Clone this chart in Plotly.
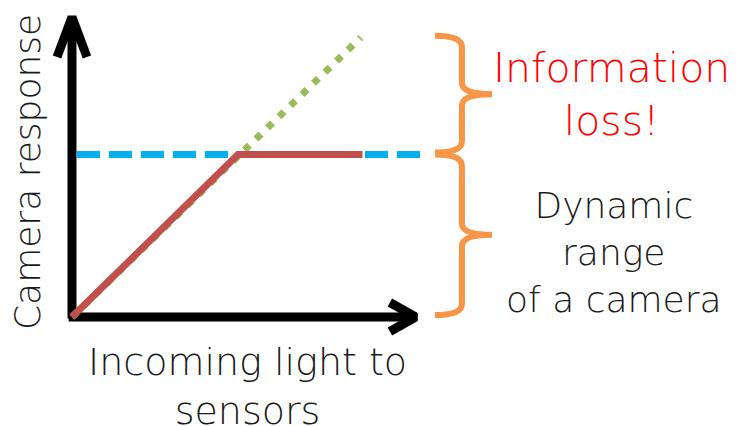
import plotly.graph_objects as go

# Conceptual units: knee (saturation point) sits at light = 1, response = 1
LIGHT_LINEAR = [0, 1.74]          # ideal sensor (green dotted)
RESPONSE_LINEAR = [0, 1.72]
LIGHT_CAMERA = [0, 1, 1.75]       # real camera response (red)
RESPONSE_CAMERA = [0, 1, 1]
SATURATION_X = [0.03, 2.1]        # blue dashed saturation level
SATURATION_Y = [1, 1]

DYNAMIC_RANGE = [0, 1]            # lower brace span
INFO_LOSS = [1, 1.73]             # upper brace span

BLACK = "#000000"
RED_LINE = "#C0504D"
GREEN = "#9BBB59"
BLUE = "#00B0F0"
ORANGE = "#F79646"
FONT = "DejaVu Sans"

fig = go.Figure()

# axes arrows
fig.add_trace(go.Scatter(x=[0, 0], y=[-0.01, 1.84], mode="lines",
                         line=dict(color=BLACK, width=9), hoverinfo="skip"))
fig.add_trace(go.Scatter(x=[-0.09, 0, 0.09], y=[1.6, 1.846, 1.6], mode="lines",
                         line=dict(color=BLACK, width=9), hoverinfo="skip"))
fig.add_trace(go.Scatter(x=[-0.02, 2.06], y=[0, 0], mode="lines",
                         line=dict(color=BLACK, width=9), hoverinfo="skip"))
fig.add_trace(go.Scatter(x=[1.915, 2.07, 1.915], y=[0.089, 0, -0.089], mode="lines",
                         line=dict(color=BLACK, width=9), hoverinfo="skip"))

# saturation level
fig.add_trace(go.Scatter(x=SATURATION_X, y=SATURATION_Y, mode="lines",
                         line=dict(color=BLUE, width=7, dash="23px,9px"),
                         hoverinfo="skip"))
# ideal linear response
fig.add_trace(go.Scatter(x=LIGHT_LINEAR, y=RESPONSE_LINEAR, mode="lines",
                         line=dict(color=GREEN, width=7, dash="7px,9px"),
                         hoverinfo="skip"))
# camera response
fig.add_trace(go.Scatter(x=LIGHT_CAMERA, y=RESPONSE_CAMERA, mode="lines",
                         line=dict(color=RED_LINE, width=7), hoverinfo="skip"))


def brace_path(y_bot, y_top, x0=2.187, x1=2.349, x2=2.53, r=0.07):
    ym = (y_bot + y_top) / 2
    return (f"M {x0},{y_top} Q {x1},{y_top} {x1},{y_top - r} "
            f"L {x1},{ym + r} Q {x1},{ym} {x2},{ym} "
            f"Q {x1},{ym} {x1},{ym - r} "
            f"L {x1},{y_bot + r} Q {x1},{y_bot} {x0},{y_bot}")


for span in (INFO_LOSS, DYNAMIC_RANGE):
    fig.add_shape(type="path", path=brace_path(span[0] + 0.012, span[1]),
                  xref="x", yref="y", line=dict(color=ORANGE, width=6))

fig.add_annotation(x=3.253, y=1.372, text="Information<br>loss!", showarrow=False,
                   font=dict(family=FONT, size=41, color="#FF0000", weight=300))
fig.add_annotation(x=3.265, y=0.40, text="Dynamic<br>range<br>of a camera", showarrow=False,
                   font=dict(family=FONT, size=36, color="#1a1a1a", weight=300))
fig.add_annotation(x=1.06, y=-0.425, text="Incoming light to<br>sensors", showarrow=False,
                   font=dict(family=FONT, size=38, color="#1a1a1a", weight=300))
fig.add_annotation(x=-0.271, y=0.892, text="Camera response", showarrow=False, textangle=-90,
                   font=dict(family=FONT, size=36, color="#1a1a1a", weight=300))

# page body has an 8px margin, so the plot area is shifted accordingly
fig.update_layout(
    width=744, height=426,
    margin=dict(l=0, r=0, t=0, b=0),
    paper_bgcolor="white", plot_bgcolor="white",
    showlegend=False,
    xaxis=dict(range=[-0.3855, 4.0964], visible=False, fixedrange=True),
    yaxis=dict(range=[-0.72, 1.9015], visible=False, fixedrange=True),
)

fig.write_html("out.html")
